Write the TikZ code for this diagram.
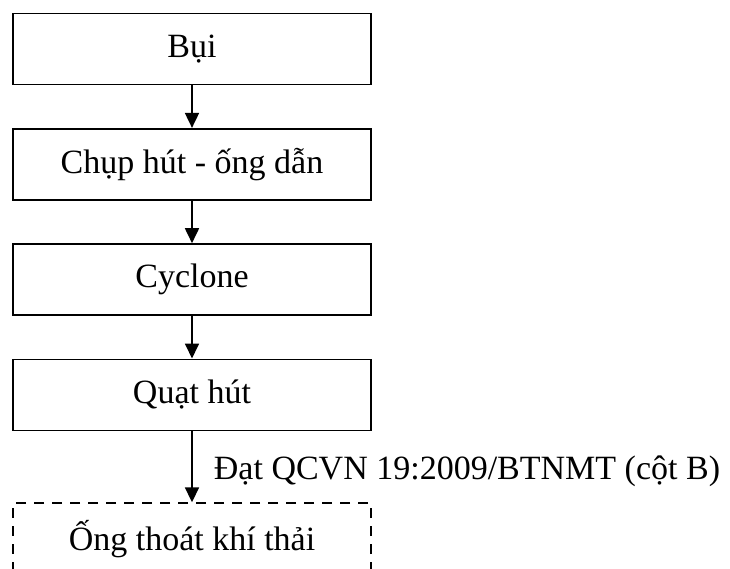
\documentclass[tikz,border=0pt]{standalone}
\usepackage{fontspec}
\setmainfont{Liberation Serif}
\usepackage{tikz}
\usetikzlibrary{arrows.meta,chains,positioning,scopes}
\tikzset{>={Triangle[length=15pt,width=14pt]},
         every on chain/.append style={join},
         every join/.style={->, line width=1.8pt},
         stepbox/.style={draw, line width=1.8pt, minimum width=358pt,
                         minimum height=71pt, inner sep=0pt,
                         font=\fontsize{34}{40}\selectfont},
         outbox/.style={stepbox, dashed, dash pattern=on 10pt off 8pt}}

\begin{document}
\begin{tikzpicture}[node distance=42.5pt]
  \useasboundingbox (0pt,0pt) rectangle (730pt,-569pt);
  { [start chain=going below]
    \node[stepbox, on chain] (bui) at (192pt,-49pt) {Bụi};
    \node[stepbox, on chain] (chup) {Chụp hút - ống dẫn};
    \node[stepbox, on chain] (cyc) {Cyclone};
    \node[stepbox, on chain] (quat) {Quạt hút}; }
  \node[outbox, below=71pt of quat] (ong) {Ống thoát khí thải};
  \draw[->, line width=1.8pt] (quat) -- (ong)
    node[midway, anchor=base west, xshift=21pt, yshift=-13pt, inner sep=0pt,
         font=\fontsize{34}{40}\selectfont] (dat)
    {Đạt QCVN 19:2009/BTNMT (cột B)};
\end{tikzpicture}
\end{document}
